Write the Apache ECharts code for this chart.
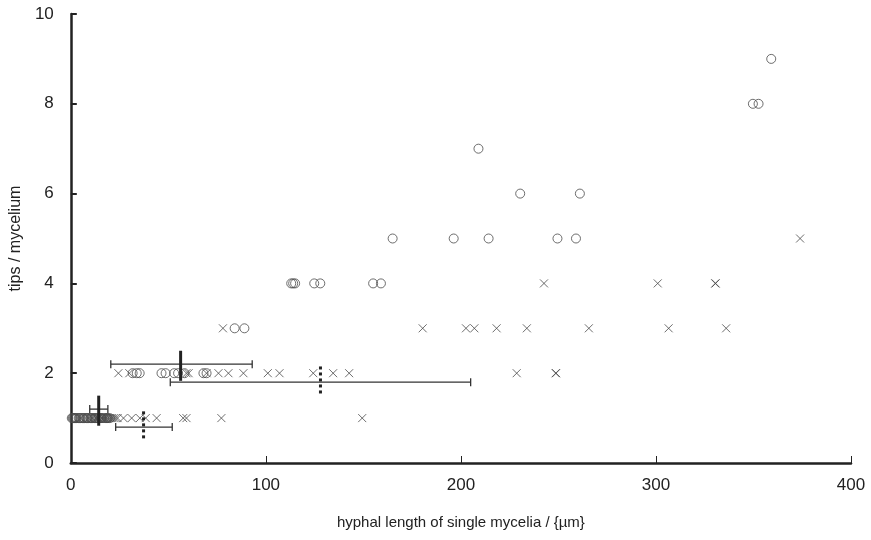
<!DOCTYPE html>
<html>
<head>
<meta charset="utf-8">
<script src="https://cdn.jsdelivr.net/npm/echarts@6/dist/echarts.min.js"></script>
<style>
html,body{margin:0;padding:0;background:#fff;}
#chart{width:871px;height:540px;}
</style>
</head>
<body>
<div id="chart"></div>
<script>
// ---- data ----
// open circles: [hyphal length, tips]
const circleX = [0.5, 1, 1.5, 2, 2.5, 3, 4, 4.5, 5, 6, 6.5, 7, 8, 8.5, 9, 10, 10.5, 11, 12, 12.5, 13, 14, 15, 15.5, 16, 17, 18, 18.5, 19, 20,
  31.7, 33.8, 35.3, 46.5, 48.6, 53, 55, 58.3, 68, 69.6,
  84, 89,
  113, 114, 115, 124.8, 127.9, 155, 159,
  165, 196.3, 214.2, 249.5, 259,
  230.4, 261,
  209,
  349.7, 352.6,
  359.1];
const circleY = [1, 1, 1, 1, 1, 1, 1, 1, 1, 1, 1, 1, 1, 1, 1, 1, 1, 1, 1, 1, 1, 1, 1, 1, 1, 1, 1, 1, 1, 1,
  2, 2, 2, 2, 2, 2, 2, 2, 2, 2,
  3, 3,
  4, 4, 4, 4, 4, 4, 4,
  5, 5, 5, 5, 5,
  6, 6,
  7,
  8, 8,
  9];
// crosses: [hyphal length, tips]
const crossX = [5, 9, 11, 13, 14, 16, 17, 18, 19, 20, 21, 22, 23, 24,
  27, 31.2, 35.4, 38.4, 44, 57.6, 59.3, 77.2, 149.4,
  24.4, 30, 59.3, 60.4, 69.6, 75.7, 80.8, 88.5, 101, 107, 124.3, 134.5, 142.7, 228.6, 248.6, 248.8,
  78, 180.4, 202.6, 206.9, 218.3, 233.8, 265.6, 306.5, 336,
  242.6, 300.9, 330.4, 330.6,
  373.9];
const crossY = [1, 1, 1, 1, 1, 1, 1, 1, 1, 1, 1, 1, 1, 1,
  1, 1, 1, 1, 1, 1, 1, 1, 1,
  2, 2, 2, 2, 2, 2, 2, 2, 2, 2, 2, 2, 2, 2, 2, 2,
  3, 3, 3, 3, 3, 3, 3, 3, 3,
  4, 4, 4, 4,
  5];
// group means with spread (horizontal bars) per tip level
const circleTips = [1, 2];
const circleMean = [14.3, 56.3];
const circleLo = [9.7, 20.5];
const circleHi = [19, 93];
const crossTips = [1, 2];
const crossMean = [37.3, 128];
const crossLo = [23, 51];
const crossHi = [52, 205];
// axis ticks
const xTicks = [0, 100, 200, 300, 400];
const yTicks = [0, 2, 4, 6, 8, 10];

// ---- chart ----
const chart = echarts.init(document.getElementById('chart'), null, {renderer: 'canvas'});
const zip = (a, b) => a.map((v, i) => [v, b[i]]);
const ink = '#222';
const markColor = '#4a4a4a';
const font = '"Liberation Sans", Arial, sans-serif';

function barRenderer(barOffset, lineTop, lineBottom, dotted) {
  return function (params, api) {
    const tips = api.value(0), lo = api.value(1), hi = api.value(2), mean = api.value(3);
    const yb = tips + barOffset;
    const a = api.coord([lo, yb]);
    const b = api.coord([hi, yb]);
    const t = api.coord([mean, tips + lineTop]);
    const btm = api.coord([mean, tips + lineBottom]);
    const cap = 4;
    const thin = {stroke: '#333', lineWidth: 1.3};
    return {
      type: 'group',
      children: [
        {type: 'line', shape: {x1: a[0], y1: a[1], x2: b[0], y2: b[1]}, style: thin},
        {type: 'line', shape: {x1: a[0], y1: a[1] - cap, x2: a[0], y2: a[1] + cap}, style: thin},
        {type: 'line', shape: {x1: b[0], y1: b[1] - cap, x2: b[0], y2: b[1] + cap}, style: thin},
        {type: 'line', shape: {x1: t[0], y1: t[1], x2: btm[0], y2: btm[1]},
          style: {stroke: ink, lineWidth: 3, lineDash: dotted ? [3, 3] : null}}
      ]
    };
  };
}

const option = {
  backgroundColor: '#fff',
  animation: false,
  grid: {left: 70, right: 20, top: 14, bottom: 77, containLabel: false},
  xAxis: {
    type: 'value', min: 0, max: 400, interval: 100,
    name: 'hyphal length of single mycelia / {µm}',
    nameLocation: 'middle', nameGap: 52,
    nameTextStyle: {fontFamily: font, fontSize: 15, color: ink},
    axisLine: {show: true, onZero: false, lineStyle: {color: ink, width: 2.5}},
    axisTick: {show: true, inside: true, length: 7, lineStyle: {color: ink, width: 1}},
    axisLabel: {fontFamily: font, fontSize: 17, color: ink, margin: 14,
      formatter: v => xTicks.includes(v) ? String(v) : ''},
    splitLine: {show: false}
  },
  yAxis: {
    type: 'value', min: 0, max: 10, interval: 2,
    name: 'tips / mycelium',
    nameLocation: 'middle', nameGap: 43,
    nameTextStyle: {fontFamily: font, fontSize: 16, color: ink},
    axisLine: {show: true, onZero: false, lineStyle: {color: ink, width: 2.5}},
    axisTick: {show: true, inside: true, length: 6, lineStyle: {color: ink, width: 2}},
    axisLabel: {fontFamily: font, fontSize: 17, color: ink, margin: 17,
      formatter: v => yTicks.includes(v) ? String(v) : ''},
    splitLine: {show: false}
  },
  series: [
    {
      type: 'scatter', name: 'circles',
      data: zip(circleX, circleY),
      symbol: 'circle', symbolSize: 9,
      itemStyle: {color: 'rgba(0,0,0,0)', borderColor: markColor, borderWidth: 1}
    },
    {
      type: 'scatter', name: 'crosses',
      data: zip(crossX, crossY),
      symbol: 'path://M0,0L10,10M10,0L0,10', symbolSize: 8,
      itemStyle: {color: 'rgba(0,0,0,0)', borderColor: markColor, borderWidth: 1}
    },
    {
      type: 'custom', name: 'circleBars',
      renderItem: barRenderer(0.2, 0.5, -0.17, false),
      data: circleTips.map((t, i) => [t, circleLo[i], circleHi[i], circleMean[i]]),
      encode: {x: [1, 2, 3], y: 0}, z: 5
    },
    {
      type: 'custom', name: 'crossBars',
      renderItem: barRenderer(-0.2, 0.15, -0.5, true),
      data: crossTips.map((t, i) => [t, crossLo[i], crossHi[i], crossMean[i]]),
      encode: {x: [1, 2, 3], y: 0}, z: 5
    }
  ]
};
chart.setOption(option);
</script>
</body>
</html>
